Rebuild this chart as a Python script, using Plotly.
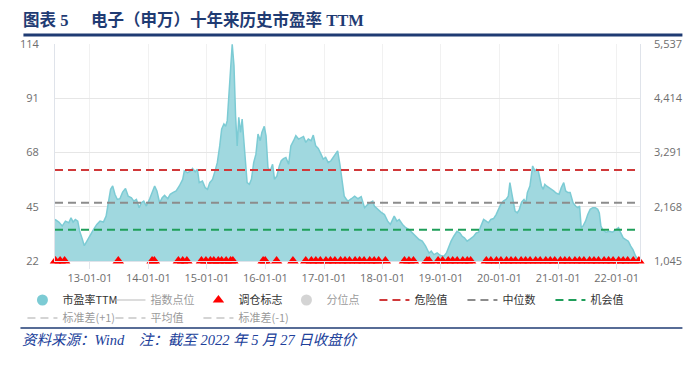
import plotly.graph_objects as go

# ---------------- data ----------------
PE_DATES = [
    "2012-05-28", "2012-06-21", "2012-07-12", "2012-08-01", "2012-08-22", "2012-09-05", "2012-09-18",
    "2012-10-02", "2012-10-17", "2012-10-29", "2012-11-12", "2012-11-27", "2012-12-13", "2013-01-03",
    "2013-01-23", "2013-02-13", "2013-03-05", "2013-03-26", "2013-04-12", "2013-04-26", "2013-05-10",
    "2013-05-23", "2013-06-06", "2013-06-21", "2013-07-07", "2013-07-24", "2013-08-11", "2013-08-28",
    "2013-09-17", "2013-10-02", "2013-10-18", "2013-11-04", "2013-11-18", "2013-12-03", "2013-12-19",
    "2014-01-09", "2014-01-25", "2014-02-09", "2014-02-23", "2014-03-12", "2014-03-28", "2014-04-12",
    "2014-05-02", "2014-05-17", "2014-06-02", "2014-06-23", "2014-07-13", "2014-08-03", "2014-08-13",
    "2014-09-02", "2014-09-23", "2014-10-03", "2014-10-20", "2014-11-03", "2014-11-14", "2014-12-04",
    "2014-12-21", "2015-01-05", "2015-01-19", "2015-02-05", "2015-02-21", "2015-03-07", "2015-03-22",
    "2015-04-03", "2015-04-17", "2015-04-28", "2015-05-08", "2015-05-19", "2015-05-29", "2015-06-08",
    "2015-06-19", "2015-06-29", "2015-07-09", "2015-07-19", "2015-07-30", "2015-08-09", "2015-08-19",
    "2015-08-30", "2015-09-09", "2015-09-23", "2015-10-06", "2015-10-20", "2015-11-03", "2015-11-16",
    "2015-11-30", "2015-12-10", "2015-12-25", "2016-01-05", "2016-01-17", "2016-01-31", "2016-02-15",
    "2016-02-27", "2016-03-13", "2016-03-28", "2016-04-09", "2016-04-23", "2016-05-08", "2016-05-25",
    "2016-06-08", "2016-06-25", "2016-07-09", "2016-07-26", "2016-08-11", "2016-08-26", "2016-09-09",
    "2016-09-25", "2016-10-12", "2016-10-26", "2016-11-10", "2016-11-26", "2016-12-13", "2016-12-27",
    "2017-01-11", "2017-01-27", "2017-02-13", "2017-02-27", "2017-03-14", "2017-03-27", "2017-04-10",
    "2017-04-25", "2017-05-07", "2017-05-21", "2017-05-31", "2017-06-21", "2017-07-11", "2017-08-01",
    "2017-08-21", "2017-09-11", "2017-10-01", "2017-10-22", "2017-11-01", "2017-11-11", "2017-12-02",
    "2017-12-22", "2018-01-13", "2018-02-02", "2018-02-19", "2018-03-05", "2018-03-15", "2018-04-01",
    "2018-04-15", "2018-05-06", "2018-05-26", "2018-06-16", "2018-07-06", "2018-07-27", "2018-08-17",
    "2018-09-06", "2018-09-27", "2018-10-18", "2018-11-01", "2018-11-18", "2018-12-08", "2018-12-29",
    "2019-01-19", "2019-02-04", "2019-02-19", "2019-03-05", "2019-03-22", "2019-04-11", "2019-04-28",
    "2019-05-13", "2019-05-27", "2019-06-13", "2019-07-03", "2019-07-24", "2019-08-09", "2019-08-24",
    "2019-09-07", "2019-09-24", "2019-10-10", "2019-10-24", "2019-11-08", "2019-11-25", "2019-12-11",
    "2019-12-25", "2020-01-09", "2020-01-25", "2020-02-11", "2020-02-25", "2020-03-06", "2020-03-17",
    "2020-03-27", "2020-04-07", "2020-04-21", "2020-05-04", "2020-05-18", "2020-06-02", "2020-06-14",
    "2020-06-23", "2020-07-09", "2020-07-20", "2020-07-26", "2020-08-09", "2020-08-19", "2020-08-30",
    "2020-09-09", "2020-09-19", "2020-09-30", "2020-10-10", "2020-10-20", "2020-11-06", "2020-11-20",
    "2020-12-04", "2020-12-21", "2021-01-07", "2021-01-21", "2021-02-05", "2021-02-17", "2021-03-03",
    "2021-03-17", "2021-04-04", "2021-04-20", "2021-05-05", "2021-05-15", "2021-05-25", "2021-06-05",
    "2021-06-21", "2021-07-05", "2021-07-20", "2021-08-05", "2021-08-21", "2021-09-05", "2021-09-15",
    "2021-09-25", "2021-10-06", "2021-10-26", "2021-11-16", "2021-12-07", "2021-12-28", "2022-01-13",
    "2022-01-27", "2022-02-11", "2022-02-27", "2022-03-15", "2022-03-30", "2022-04-13", "2022-04-30",
    "2022-05-16", "2022-05-27",
]
PE_VALUES = [
    39.6, 38.5, 36.8, 38.9, 38.2, 40.3, 38.5,
    39.6, 38.9, 34.6, 31.8, 28.5, 30.4, 33.2,
    35.3, 37.5, 38.9, 38.5, 41.0, 46.7, 52.4,
    53.8, 50.3, 48.1, 48.4, 51.2, 52.7, 49.5,
    48.8, 47.4, 48.1, 44.6, 46.7, 47.4, 45.3,
    48.4, 51.0, 53.8, 51.7, 46.7, 48.8, 49.8,
    48.4, 50.3, 51.0, 51.7, 53.8, 56.6, 60.2,
    59.5, 60.2, 61.2, 59.8, 60.9, 55.2, 55.9,
    53.1, 52.4, 55.2, 56.6, 60.2, 63.7, 70.8,
    77.9, 80.1, 79.1, 81.5, 91.4, 103.5, 113.9,
    104.9, 83.6, 70.8, 82.9, 76.5, 82.2, 73.7,
    60.9, 55.2, 54.5, 56.6, 63.7, 67.3, 75.8,
    73.0, 76.5, 79.1, 75.1, 61.6, 60.2, 63.0,
    56.6, 58.1, 62.3, 64.5, 65.4, 65.9, 63.0,
    70.8, 73.0, 75.1, 73.7, 74.4, 74.8, 72.3,
    73.7, 73.0, 75.4, 70.8, 69.7, 67.3, 65.2,
    65.9, 63.7, 64.5, 65.9, 67.3, 68.7, 63.0,
    56.6, 49.5, 48.1, 47.4, 48.4, 49.5, 48.4,
    49.3, 44.6, 46.0, 47.0, 47.4, 45.3, 43.9,
    42.7, 41.7, 38.9, 37.5, 39.6, 41.0, 38.9,
    39.6, 37.5, 36.1, 35.3, 33.9, 32.5, 31.1,
    30.4, 28.3, 25.4, 26.2, 24.7, 25.4, 24.3,
    24.0, 25.4, 28.3, 30.4, 32.5, 34.6, 33.9,
    32.5, 31.8, 30.4, 31.4, 32.5, 33.9, 34.2,
    36.8, 39.6, 38.9, 38.2, 39.6, 40.0, 41.7,
    43.9, 46.0, 47.4, 48.1, 49.5, 55.2, 51.0,
    46.7, 43.2, 42.4, 43.9, 47.0, 48.1, 46.7,
    51.0, 53.8, 59.5, 62.3, 60.2, 60.9, 60.2,
    56.6, 53.8, 52.4, 54.5, 53.8, 53.1, 52.4,
    51.7, 50.7, 50.3, 53.1, 55.2, 51.7, 51.0,
    51.0, 46.7, 45.3, 44.6, 45.3, 36.1, 36.8,
    38.9, 41.7, 43.9, 44.6, 44.6, 43.9, 42.4,
    36.8, 35.3, 34.2, 34.6, 34.2, 35.3, 36.1,
    33.9, 31.8, 31.1, 30.4, 28.3, 26.8, 24.0,
    22.6, 23.3,
]

# rebalancing signal dates (调仓标志), drawn at the bottom of the axis
SIGNAL_DATES = [
    "2012-05-31", "2012-06-29", "2012-07-27",
    "2013-06-27",
    "2014-01-24", "2014-02-07",
    "2014-07-07", "2014-08-03", "2014-08-29",
    "2014-11-28", "2014-12-26", "2015-01-23", "2015-02-13", "2015-03-13", "2015-04-03",
    "2015-05-01", "2015-05-29", "2015-06-12",
    "2015-12-18", "2015-12-31",
    "2016-03-11",
    "2016-06-21",
    "2016-09-09", "2016-10-14", "2016-11-11", "2016-12-09", "2017-01-13", "2017-02-10",
    "2017-03-10", "2017-04-14", "2017-05-12", "2017-06-09", "2017-07-14", "2017-08-11",
    "2017-09-08", "2017-10-13", "2017-11-10", "2017-12-08", "2018-01-19",
    "2018-05-18", "2018-06-15", "2018-07-13",
    "2018-10-05", "2018-10-19",
    "2018-12-14", "2019-01-11", "2019-02-15", "2019-03-15", "2019-04-12", "2019-05-17",
    "2019-06-14", "2019-07-05",
    "2019-10-11", "2019-11-08", "2019-12-13", "2020-01-10", "2020-02-14", "2020-03-13",
    "2020-04-10", "2020-05-15", "2020-06-12", "2020-07-10", "2020-08-14", "2020-09-11",
    "2020-10-16", "2020-11-13", "2020-12-11", "2021-01-15", "2021-02-12", "2021-03-12",
    "2021-04-16", "2021-05-14", "2021-06-11", "2021-07-16", "2021-08-13", "2021-09-10",
    "2021-10-15", "2021-11-12", "2021-12-10", "2022-01-14", "2022-02-11", "2022-03-11",
    "2022-04-15", "2022-05-20",
]
SIGNAL_LEVEL = [22] * len(SIGNAL_DATES)

DANGER_VALUE = 60.6       # 危险值
MEDIAN_VALUE = 46.7       # 中位数
OPPORTUNITY_VALUE = 35.2  # 机会值

Y_LEFT_TICKS = [22, 45, 68, 91, 114]
Y_RIGHT_TICKS = [1045, 2168, 3291, 4414, 5537]

TITLE_PREFIX = "图表 5"
TITLE_TEXT = "电子（申万）十年来历史市盈率 TTM"
SOURCE_TEXT = "资料来源：Wind\u00a0\u00a0\u00a0\u00a0注：截至 2022 年 5 月 27 日收盘价"

# ---------------- layout helpers ----------------
# the page body has an 8px default margin, so the figure is drawn 8px smaller
# and all reference pixel positions are shifted by OFF.
OFF = 8
W, H = 699 - OFF, 368 - OFF
PLOT_L, PLOT_R, PLOT_T, PLOT_B = 47, 640, 44, 261   # reference pixel box of the plot
ML, MT = PLOT_L - OFF, PLOT_T - OFF
MR, MB = W - (PLOT_R - OFF), H - (PLOT_B - OFF)
PW, PH = W - ML - MR, H - MT - MB


def px_x(px):
    return (px - OFF - ML) / PW


def px_y(py):
    return (H - MB - (py - OFF)) / PH


TEAL_LINE = "#7ccbd4"
TEAL_FILL = "#a0d8df"
RED = "#d0393a"
GREY = "#8c8c8c"
GREEN = "#1f9e5a"
NAVY = "#1f3b73"
TICK_FONT = dict(family="Open Sans, DejaVu Sans, sans-serif", size=11, color="#6e6e6e")
LEG_FONT = dict(family="Noto Sans CJK SC, sans-serif", size=11, color="#333333")

fig = go.Figure()

# PE area
fig.add_trace(go.Scatter(
    x=PE_DATES, y=PE_VALUES, mode="lines", fill="tozeroy",
    line=dict(color=TEAL_LINE, width=1.5), fillcolor=TEAL_FILL,
    showlegend=False, name="市盈率TTM", hoverinfo="x+y",
))
# legend entries (row 1)
fig.add_trace(go.Scatter(
    x=[None], y=[None], mode="markers", name="市盈率TTM",
    marker=dict(symbol="circle", size=11, color=TEAL_LINE), legend="legend",
))
fig.add_trace(go.Scatter(
    x=[None], y=[None], mode="lines", name="指数点位", yaxis="y2",
    line=dict(color="#bbbbbb", width=2), visible="legendonly", legend="legend",
))
fig.add_trace(go.Scatter(
    x=SIGNAL_DATES, y=SIGNAL_LEVEL, mode="markers", name="调仓标志",
    marker=dict(symbol="triangle-up", size=10, color="#ff0000", line=dict(width=0)),
    cliponaxis=False, legend="legend",
))
fig.add_trace(go.Scatter(
    x=[None], y=[None], mode="markers", name="分位点",
    marker=dict(symbol="circle", size=11, color="#aaaaaa"), visible="legendonly", legend="legend",
))
for name, val, col in [("危险值", DANGER_VALUE, RED), ("中位数", MEDIAN_VALUE, GREY),
                       ("机会值", OPPORTUNITY_VALUE, GREEN)]:
    fig.add_trace(go.Scatter(
        x=[PE_DATES[0], PE_DATES[-1]], y=[val, val], mode="lines", name=name,
        line=dict(color=col, width=2, dash="8px,5px"), legend="legend",
        legendwidth=60 if name == "机会值" else None,
    ))
# legend entries (row 2, hidden series)
for name in ["标准差(+1)", "平均值", "标准差(-1)"]:
    fig.add_trace(go.Scatter(
        x=[None], y=[None], mode="lines", name=name,
        line=dict(color="#aaaaaa", width=2, dash="8px,5px"), visible="legendonly", legend="legend2",
        legendwidth=70 if name == "标准差(-1)" else None,
    ))

leg_common = dict(
    orientation="h", xanchor="left", yanchor="middle", entrywidth=43, entrywidthmode="pixels",
    font=LEG_FONT, bgcolor="rgba(0,0,0,0)", itemwidth=30, tracegroupgap=0, itemclick=False,
)

fig.update_layout(
    width=W, height=H,
    margin=dict(l=ML, r=MR, t=MT, b=MB, pad=0),
    paper_bgcolor="white", plot_bgcolor="white",
    showlegend=True,
    legend=dict(x=px_x(14), y=px_y(300), **leg_common),
    legend2=dict(x=px_x(14), y=px_y(318), **leg_common),
    xaxis=dict(
        type="date", range=[PE_DATES[0], PE_DATES[-1]],
        tick0="2013-01-01", dtick="M12", tickformat="%y-%m-%d",
        showgrid=True, gridcolor="#f1f1f1", gridwidth=1,
        showline=True, linecolor="#dfe3ea", linewidth=1,
        ticks="outside", ticklen=7, tickcolor="#e3e6ec", tickwidth=1,
        tickfont=TICK_FONT, zeroline=False,
    ),
    yaxis=dict(
        range=[22, 114], tickvals=Y_LEFT_TICKS,
        showgrid=True, gridcolor="#e6e6e6", gridwidth=1,
        showline=True, linecolor="#dfe3ea", linewidth=1, mirror=True,
        ticks="", tickfont=TICK_FONT, ticklabelstandoff=13, zeroline=False,
    ),
    yaxis2=dict(
        range=[1045, 5537], tickvals=Y_RIGHT_TICKS, tickformat=",d",
        overlaying="y", side="right", showgrid=False, showline=False,
        ticks="", tickfont=TICK_FONT, ticklabelstandoff=13, zeroline=False,
    ),
    hovermode="closest",
)

TITLE_FONT = dict(family="Liberation Serif, Noto Sans CJK SC, serif", size=16.5, color=NAVY)
fig.add_annotation(
    text="<b>" + TITLE_PREFIX + "</b>", xref="paper", yref="paper",
    x=px_x(13), y=px_y(20), xanchor="left", yanchor="middle", showarrow=False, font=TITLE_FONT,
)
fig.add_annotation(
    text="<b>" + TITLE_TEXT + "</b>", xref="paper", yref="paper",
    x=px_x(81), y=px_y(20), xanchor="left", yanchor="middle", showarrow=False, font=TITLE_FONT,
)
fig.add_annotation(
    text="<i>" + SOURCE_TEXT + "</i>", xref="paper", yref="paper",
    x=px_x(12), y=px_y(340), xanchor="left", yanchor="middle", showarrow=False,
    font=dict(family="Liberation Serif, Noto Sans CJK SC, serif", size=14.5, color="#20409a"),
)
fig.add_shape(type="line", xref="paper", yref="paper",
              x0=px_x(15), x1=px_x(683), y0=px_y(35), y1=px_y(35),
              line=dict(color=NAVY, width=3))
fig.add_shape(type="line", xref="paper", yref="paper",
              x0=px_x(12), x1=px_x(683), y0=px_y(328), y1=px_y(328),
              line=dict(color=NAVY, width=1.5))

fig.write_html("out.html")
